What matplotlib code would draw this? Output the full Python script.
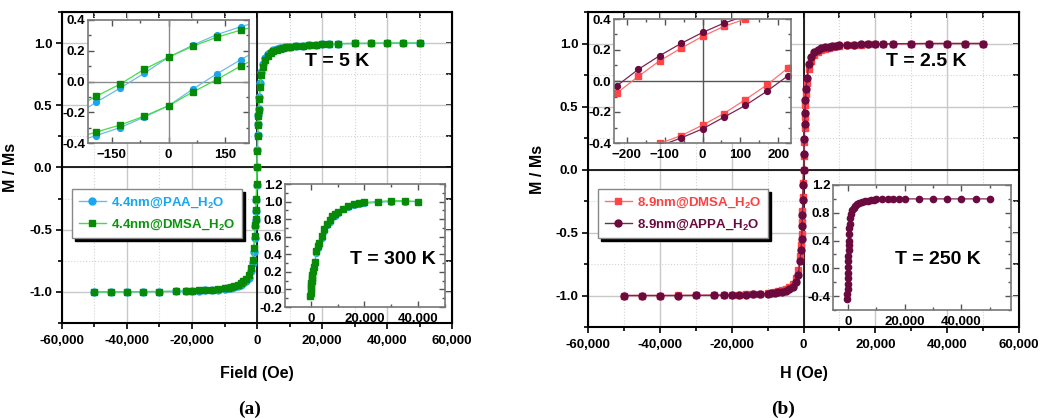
import matplotlib
matplotlib.use('Agg')
import matplotlib.pyplot as plt
from matplotlib.ticker import MultipleLocator, FuncFormatter

plt.rcParams['font.family'] = ['Liberation Sans', 'DejaVu Sans']
plt.rcParams['font.weight'] = 'bold'
plt.rcParams['mathtext.fontset'] = 'custom'
plt.rcParams['mathtext.rm'] = 'Liberation Sans:bold'
plt.rcParams['mathtext.it'] = 'Liberation Sans:bold'
plt.rcParams['mathtext.default'] = 'rm'

# ---- (a) 4.4 nm particles, T = 5 K, full loop ----
FIELD_A = [-50000, -45000, -40000, -35000, -30000, -25000, -22000, -20000,
           -18000, -16000, -14000, -12000, -10000, -9000, -8000, -7000,
           -6000, -5000, -4200, -3400, -2500, -1800, -1300, -1000, -700,
           -500, -400, -300, -200, -100, 0, 100, 200, 300, 400, 500, 700,
           1000, 1300, 1800, 2500, 3400, 4200, 5000, 6000, 7000, 8000, 9000,
           10000, 12000, 14000, 16000, 18000, 20000, 22000, 25000, 30000,
           35000, 40000, 45000, 50000]
PAA_A = [-1.0, -1.0, -0.999, -0.998, -0.997, -0.996, -0.994, -0.992, -0.99,
         -0.988, -0.985, -0.981, -0.976, -0.972, -0.967, -0.961, -0.953,
         -0.942, -0.928, -0.91, -0.885, -0.835, -0.77, -0.68, -0.57, -0.47,
         -0.42, -0.35, -0.26, -0.14, 0.0, 0.14, 0.26, 0.35, 0.42, 0.47, 0.57,
         0.68, 0.77, 0.83, 0.88, 0.91, 0.93, 0.942, 0.951, 0.958, 0.963,
         0.967, 0.97, 0.975, 0.98, 0.985, 0.988, 0.991, 0.993, 0.995, 0.997,
         0.998, 1.0, 1.0, 1.0]
DMSA_A = [-1.0, -1.0, -0.999, -0.998, -0.997, -0.995, -0.993, -0.99, -0.988,
          -0.985, -0.982, -0.978, -0.972, -0.968, -0.962, -0.955, -0.945,
          -0.932, -0.915, -0.895, -0.866, -0.81, -0.745, -0.65, -0.55, -0.46,
          -0.41, -0.34, -0.25, -0.13, 0.0, 0.13, 0.25, 0.34, 0.41, 0.46, 0.55,
          0.65, 0.745, 0.81, 0.866, 0.9, 0.92, 0.935, 0.945, 0.953, 0.96,
          0.965, 0.968, 0.974, 0.979, 0.984, 0.987, 0.99, 0.993, 0.995, 0.997,
          0.998, 1.0, 1.0, 1.0]

# low-field detail of the 5 K loop (both branches)
LOOP_FIELD_A = [-240, -192, -128, -64, 0, 64, 128, 192, 240]
PAA_A_DOWN = [-0.21, -0.136, -0.043, 0.054, 0.158, 0.236, 0.305, 0.357, 0.39]
PAA_A_UP = [-0.39, -0.352, -0.30, -0.231, -0.158, -0.05, 0.05, 0.143, 0.21]
DMSA_A_DOWN = [-0.16, -0.097, -0.017, 0.08, 0.158, 0.229, 0.288, 0.335, 0.365]
DMSA_A_UP = [-0.365, -0.329, -0.283, -0.225, -0.158, -0.069, 0.013, 0.102,
             0.16]

# 300 K magnetisation curve
FIELD_300 = [-200, -100, 0, 100, 200, 300, 400, 500, 750, 1000, 1500, 2000,
             2500, 3000, 4000, 5000, 6000, 7000, 8000, 9000, 10000, 12000,
             14000, 16000, 18000, 20000, 25000, 30000, 35000, 40000]
PAA_300 = [-0.08, -0.04, 0.0, 0.04, 0.08, 0.11, 0.14, 0.16, 0.2, 0.25, 0.3,
           0.42, 0.47, 0.51, 0.59, 0.67, 0.73, 0.77, 0.82, 0.84, 0.87, 0.91,
           0.94, 0.96, 0.97, 0.98, 0.99, 1.0, 1.0, 1.0]
DMSA_300 = [-0.07, -0.035, 0.0, 0.035, 0.07, 0.1, 0.13, 0.16, 0.21, 0.26,
            0.31, 0.44, 0.49, 0.53, 0.61, 0.69, 0.75, 0.79, 0.84, 0.86, 0.88,
            0.92, 0.95, 0.97, 0.98, 0.99, 1.0, 1.01, 1.01, 1.0]

# ---- (b) 8.9 nm particles, T = 2.5 K, full loop ----
FIELD_B = [-50000, -45000, -40000, -35000, -30000, -25000, -22000, -20000,
           -18000, -16000, -14000, -12000, -10000, -9000, -8000, -7000,
           -6000, -5000, -4000, -3000, -2000, -1500, -1000, -700, -500, -400,
           -300, -200, -100, 0, 100, 200, 300, 400, 500, 700, 1000, 1500,
           2000, 3000, 4000, 5000, 6000, 7000, 8000, 9000, 10000, 12000,
           14000, 16000, 18000, 20000, 22000, 25000, 30000, 35000, 40000,
           45000, 50000]
DMSA_B = [-1.0, -1.0, -1.0, -0.999, -0.998, -0.997, -0.996, -0.995, -0.994,
          -0.992, -0.99, -0.987, -0.983, -0.979, -0.974, -0.968, -0.96,
          -0.95, -0.935, -0.91, -0.86, -0.8, -0.69, -0.6, -0.51, -0.42,
          -0.33, -0.22, -0.11, 0.0, 0.11, 0.22, 0.33, 0.42, 0.51, 0.6, 0.69,
          0.8, 0.86, 0.91, 0.935, 0.95, 0.96, 0.968, 0.974, 0.979, 0.983,
          0.987, 0.99, 0.992, 0.994, 0.995, 0.996, 0.997, 0.998, 1.0, 1.0,
          1.0, 1.0]
APPA_B = [-1.0, -1.0, -1.0, -1.0, -0.999, -0.998, -0.997, -0.996, -0.995,
          -0.994, -0.992, -0.99, -0.987, -0.984, -0.98, -0.976, -0.97,
          -0.963, -0.95, -0.93, -0.89, -0.84, -0.73, -0.64, -0.55, -0.45,
          -0.36, -0.24, -0.12, 0.0, 0.12, 0.24, 0.36, 0.45, 0.55, 0.64, 0.73,
          0.84, 0.89, 0.93, 0.95, 0.963, 0.97, 0.976, 0.98, 0.984, 0.987,
          0.99, 0.992, 0.994, 0.995, 0.996, 0.997, 0.998, 0.999, 1.0, 1.0,
          1.0, 1.0]

LOOP_FIELD_B = [-281, -225, -169, -113, -56, 0, 56, 113, 169, 225, 281]
DMSA_B_DOWN = [-0.17, -0.077, 0.03, 0.13, 0.212, 0.288, 0.352, 0.40, 0.44,
               0.47, 0.50]
DMSA_B_UP = [-0.50, -0.47, -0.44, -0.403, -0.352, -0.285, -0.21, -0.12,
             -0.026, 0.084, 0.18]
APPA_B_DOWN = [-0.12, -0.03, 0.075, 0.163, 0.243, 0.313, 0.373, 0.42, 0.46,
               0.49, 0.52]
APPA_B_UP = [-0.52, -0.49, -0.46, -0.42, -0.367, -0.309, -0.234, -0.157,
             -0.067, 0.034, 0.13]

# 250 K magnetisation curve
FIELD_250 = [-250, -200, -150, -100, -50, 0, 50, 100, 150, 200, 250, 300,
             400, 500, 600, 800, 1000, 1500, 2000, 2500, 3000, 4000, 5000,
             6000, 7000, 8000, 9000, 10000, 12000, 14000, 16000, 18000,
             20000, 25000, 30000, 35000, 40000, 45000, 50000]
APPA_250 = [-0.44, -0.37, -0.3, -0.22, -0.14, -0.06, 0.02, 0.1, 0.18, 0.26,
            0.33, 0.4, 0.5, 0.58, 0.64, 0.72, 0.78, 0.84, 0.87, 0.9, 0.92,
            0.94, 0.955, 0.968, 0.976, 0.983, 0.988, 0.992, 0.995, 0.997,
            0.998, 0.999, 1.0, 1.0, 1.0, 1.0, 1.0, 1.0, 1.0]

# series styles: (marker colour, line colour, marker)
PAA_STYLE = ('#1aa6ee', '#6dbbe8', 'o')
DMSA_A_STYLE = ('#078a07', '#45dd45', 's')
DMSA_B_STYLE = ('#ff4545', '#ff7070', 's')
APPA_STYLE = ('#6a0a3e', '#7d2454', 'o')

W, H = 1041, 418
thousands = FuncFormatter(lambda v, p: '{:,.0f}'.format(v))


def px_rect(left, top, right, bottom):
    return [left / W, 1 - bottom / H, (right - left) / W, (bottom - top) / H]


def fig_label(fig, x, y, s, **kw):
    fig.text(x / W, 1 - y / H, s, ha='center', va='center', **kw)


def draw(ax, x, y, style, ms, label=None, lw=1.0):
    mc, lc, mk = style
    ax.plot(x, y, color=lc, lw=lw, marker=mk, ms=ms, mfc=mc, mec=mc,
            label=label)


def setup_main(ax, xlabel, xlab_y, ylab_x):
    ax.set_xlim(-60000, 60000)
    ax.set_ylim(-1.25, 1.25)
    ax.xaxis.set_major_locator(MultipleLocator(20000))
    ax.xaxis.set_minor_locator(MultipleLocator(10000))
    ax.yaxis.set_major_locator(MultipleLocator(0.5))
    ax.yaxis.set_minor_locator(MultipleLocator(0.25))
    ax.xaxis.set_major_formatter(thousands)
    ax.yaxis.set_major_formatter(FuncFormatter(lambda v, p: '%.1f' % v))
    ax.grid(which='major', color='#c8c8c8', lw=1.0)
    ax.grid(which='minor', color='#d4d4d4', lw=0.8, ls=':')
    ax.axhline(0, color='black', lw=1.2, zorder=1.5)
    ax.axvline(0, color='black', lw=1.2, zorder=1.5)
    ax.tick_params(which='both', direction='out', labelsize=9.5, width=1.2)
    ax.tick_params(which='major', length=4)
    ax.tick_params(which='minor', length=3)
    ax.tick_params(axis='x', pad=5)
    ax.tick_params(axis='y', pad=3)
    for s in ax.spines.values():
        s.set_linewidth(1.5)
    ax.set_axisbelow(True)
    top = ax.secondary_xaxis('top')
    top.xaxis.set_major_locator(MultipleLocator(20000))
    top.xaxis.set_minor_locator(MultipleLocator(10000))
    top.tick_params(which='both', direction='in', length=4, width=1.2,
                    labeltop=False)
    right = ax.secondary_yaxis('right')
    right.yaxis.set_major_locator(MultipleLocator(0.5))
    right.yaxis.set_minor_locator(MultipleLocator(0.25))
    right.tick_params(which='both', direction='in', length=4, width=1.2,
                      labelright=False)
    ax.set_xlabel(xlabel, fontsize=11.5, fontweight='bold')
    ax.set_ylabel('M / Ms', fontsize=11.5, fontweight='bold')
    ax.xaxis.set_label_coords(0.5, xlab_y)
    ax.yaxis.set_label_coords(ylab_x, 0.5)


def setup_inset(ax, xmaj, xmin, ymaj, ymin, fmt=None):
    ax.xaxis.set_major_locator(MultipleLocator(xmaj))
    ax.xaxis.set_minor_locator(MultipleLocator(xmin))
    ax.yaxis.set_major_locator(MultipleLocator(ymaj))
    ax.yaxis.set_minor_locator(MultipleLocator(ymin))
    if fmt is not None:
        ax.xaxis.set_major_formatter(fmt)
    ax.yaxis.set_major_formatter(FuncFormatter(lambda v, p: '%.1f' % v))
    ax.tick_params(which='both', direction='in', top=True, right=True,
                   labelsize=9.5, width=1.0, color='#555555')
    ax.tick_params(which='major', length=4)
    ax.tick_params(which='minor', length=2.5)
    ax.tick_params(axis='x', pad=4)
    ax.tick_params(axis='y', pad=2)
    for s in ax.spines.values():
        s.set_color('#777777')
        s.set_linewidth(1.2)


def add_legend(fig, ax, left, top, colors):
    leg = ax.legend(loc='upper left', bbox_to_anchor=(left / W, 1 - top / H),
                    bbox_transform=fig.transFigure, borderaxespad=0,
                    fontsize=9.5, handlelength=2.1, handletextpad=0.35,
                    borderpad=0.5, labelspacing=0.55, fancybox=False,
                    edgecolor='#888888', framealpha=1,
                    shadow={'color': 'black', 'alpha': 1})
    leg.get_frame().set_linewidth(1.0)
    for t, c in zip(leg.get_texts(), colors):
        t.set_color(c)
        t.set_fontweight('bold')
    leg.set_zorder(10)


def main():
    fig = plt.figure(figsize=(W / 100, H / 100), dpi=100)

    # ---------- panel (a) ----------
    ax_a = fig.add_axes(px_rect(62, 12, 452, 323))
    draw(ax_a, FIELD_A, PAA_A, PAA_STYLE, 5, r'4.4nm@PAA_H$_2$O')
    draw(ax_a, FIELD_A, DMSA_A, DMSA_A_STYLE, 5, r'4.4nm@DMSA_H$_2$O')
    setup_main(ax_a, 'Field (Oe)', -0.138, -0.113)
    add_legend(fig, ax_a, 72, 189, ['#14a8f2', '#0b950b'])
    fig_label(fig, 337, 61, 'T = 5 K', fontsize=14, fontweight='bold')

    ins = fig.add_axes(px_rect(88, 20, 249, 143))
    ins.axhline(0, color='#8a8a8a', lw=1.0)
    ins.axvline(0, color='#8a8a8a', lw=1.0)
    for y in (PAA_A_DOWN, PAA_A_UP):
        draw(ins, LOOP_FIELD_A, y, PAA_STYLE, 4.2, lw=0.9)
    for y in (DMSA_A_DOWN, DMSA_A_UP):
        draw(ins, LOOP_FIELD_A, y, DMSA_A_STYLE, 4.2, lw=0.9)
    ins.set_xlim(-213, 213)
    ins.set_ylim(-0.4, 0.4)
    setup_inset(ins, 150, 75, 0.2, 0.1)

    ins = fig.add_axes(px_rect(285, 184, 445, 307))
    draw(ins, FIELD_300, PAA_300, PAA_STYLE, 4.2, lw=0.9)
    draw(ins, FIELD_300, DMSA_300, DMSA_A_STYLE, 4.2, lw=0.9)
    ins.set_xlim(-9700, 50100)
    ins.set_ylim(-0.2, 1.2)
    setup_inset(ins, 20000, 10000, 0.2, 0.1, thousands)
    fig_label(fig, 393, 260, 'T = 300 K', fontsize=14, fontweight='bold')

    # ---------- panel (b) ----------
    ax_b = fig.add_axes(px_rect(588, 12, 1019, 327))
    draw(ax_b, FIELD_B, DMSA_B, DMSA_B_STYLE, 5, r'8.9nm@DMSA_H$_2$O')
    draw(ax_b, FIELD_B, APPA_B, APPA_STYLE, 5, r'8.9nm@APPA_H$_2$O')
    setup_main(ax_b, 'H (Oe)', -0.124, -0.0998)
    add_legend(fig, ax_b, 598, 189, ['#ff4040', '#6a0a3e'])
    fig_label(fig, 926, 61, 'T = 2.5 K', fontsize=14, fontweight='bold')

    ins = fig.add_axes(px_rect(614, 19, 791, 143))
    ins.axhline(0, color='#555555', lw=1.0)
    ins.axvline(0, color='#555555', lw=1.0)
    for y in (DMSA_B_DOWN, DMSA_B_UP):
        draw(ins, LOOP_FIELD_B, y, DMSA_B_STYLE, 4.2, lw=0.9)
    for y in (APPA_B_DOWN, APPA_B_UP):
        draw(ins, LOOP_FIELD_B, y, APPA_STYLE, 4.2, lw=0.9)
    ins.set_xlim(-233, 233)
    ins.set_ylim(-0.4, 0.4)
    setup_inset(ins, 100, 50, 0.2, 0.1)

    ins = fig.add_axes(px_rect(833, 185, 1011, 310))
    draw(ins, FIELD_250, APPA_250, APPA_STYLE, 4.5, lw=0.9)
    ins.set_xlim(-5300, 57500)
    ins.set_ylim(-0.6, 1.2)
    setup_inset(ins, 20000, 10000, 0.4, 0.2, thousands)
    fig_label(fig, 938, 260, 'T = 250 K', fontsize=14, fontweight='bold')

    fig_label(fig, 250, 409, '(a)', family='Liberation Serif', fontsize=14,
              fontweight='bold')
    fig_label(fig, 783, 409, '(b)', family='Liberation Serif', fontsize=14,
              fontweight='bold')

    fig.savefig('out.png', dpi=100)


if __name__ == '__main__':
    main()
